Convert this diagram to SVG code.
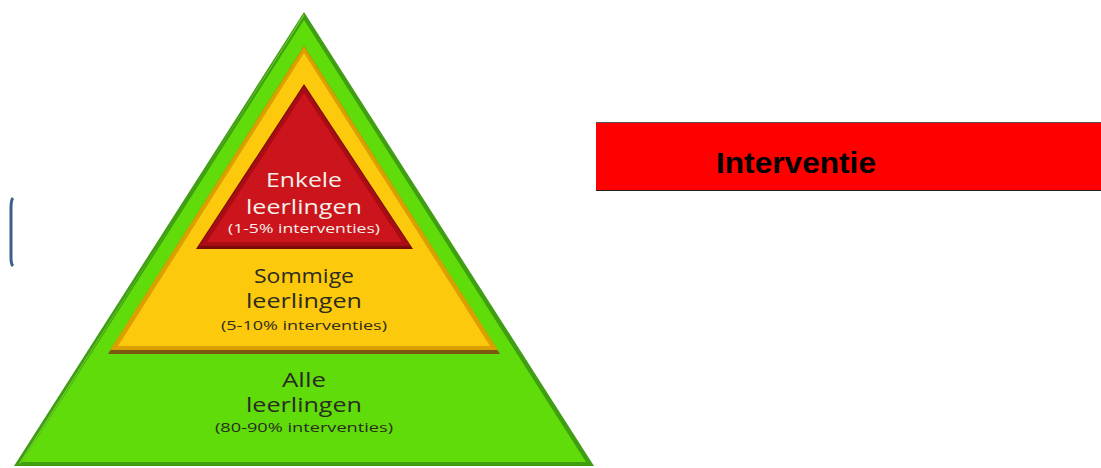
<svg xmlns="http://www.w3.org/2000/svg" width="1101" height="468" viewBox="0 0 1101 468">
<style>
.t{font-family:"Open Sans","DejaVu Sans",sans-serif;text-anchor:middle}
.big{font-size:20px}
.small{font-size:13px}
.dark{fill:#2b2b1f}
.light{fill:#f4f0e8}
</style>
<rect width="1101" height="468" fill="#ffffff"/>
<g id="bracket">
<path d="M13,198 Q11,200 11,208 L11,258 Q11,264 13,266" fill="none" stroke="#3a6090" stroke-width="3"/>
</g>
<g id="level-alle">
<polygon points="304,12 14,466 594,466" fill="#3f9e12"/>
<polygon points="304,20 22,462 586,462" fill="#5fdc0a"/>
<polygon points="304,14 300,20 22,462 18,465 304,16" fill="#8be840" opacity="0.6"/>
<text class="t big dark" x="304" y="387" textLength="44" lengthAdjust="spacingAndGlyphs">Alle</text>
<text class="t big dark" x="304" y="412" textLength="116" lengthAdjust="spacingAndGlyphs">leerlingen</text>
<text class="t small dark" x="304" y="432" textLength="178" lengthAdjust="spacingAndGlyphs">(80-90% interventies)</text>
</g>
<g id="level-sommige">
<polygon points="304,46 108,354 500,354" fill="#7a5a10"/>
<polygon points="304,46 110,350 498,350" fill="#d9a000"/>
<polygon points="304,53 118,346 490,346" fill="#fdc90c"/>
<text class="t big dark" x="304" y="283" textLength="100" lengthAdjust="spacingAndGlyphs">Sommige</text>
<text class="t big dark" x="304" y="308" textLength="116" lengthAdjust="spacingAndGlyphs">leerlingen</text>
<text class="t small dark" x="304" y="330" textLength="166" lengthAdjust="spacingAndGlyphs">(5-10% interventies)</text>
</g>
<g id="level-enkele">
<polygon points="304,84 196,249 413,249" fill="#7a0a0c"/>
<polygon points="304,86 199,246 410,246" fill="#a80d14"/>
<polygon points="304,93 207,242 402,242" fill="#cc141c"/>
<text class="t big light" x="304" y="187" textLength="76" lengthAdjust="spacingAndGlyphs">Enkele</text>
<text class="t big light" x="304" y="214" textLength="116" lengthAdjust="spacingAndGlyphs">leerlingen</text>
<text class="t small light" x="304" y="233" textLength="152" lengthAdjust="spacingAndGlyphs">(1-5% interventies)</text>
</g>
<g id="interventie">
<rect x="596" y="122" width="506" height="69" fill="#ff0000"/>
<line x1="596" y1="122.5" x2="1101" y2="122.5" stroke="#555" stroke-width="1"/>
<line x1="596" y1="190.5" x2="1101" y2="190.5" stroke="#222" stroke-width="1"/>
<text x="716" y="173" font-family="'Liberation Sans',Arial,sans-serif" font-weight="bold" font-size="29" fill="#000" textLength="160" lengthAdjust="spacingAndGlyphs">Interventie</text>
</g>
<g id="connectors"/>
</svg>
